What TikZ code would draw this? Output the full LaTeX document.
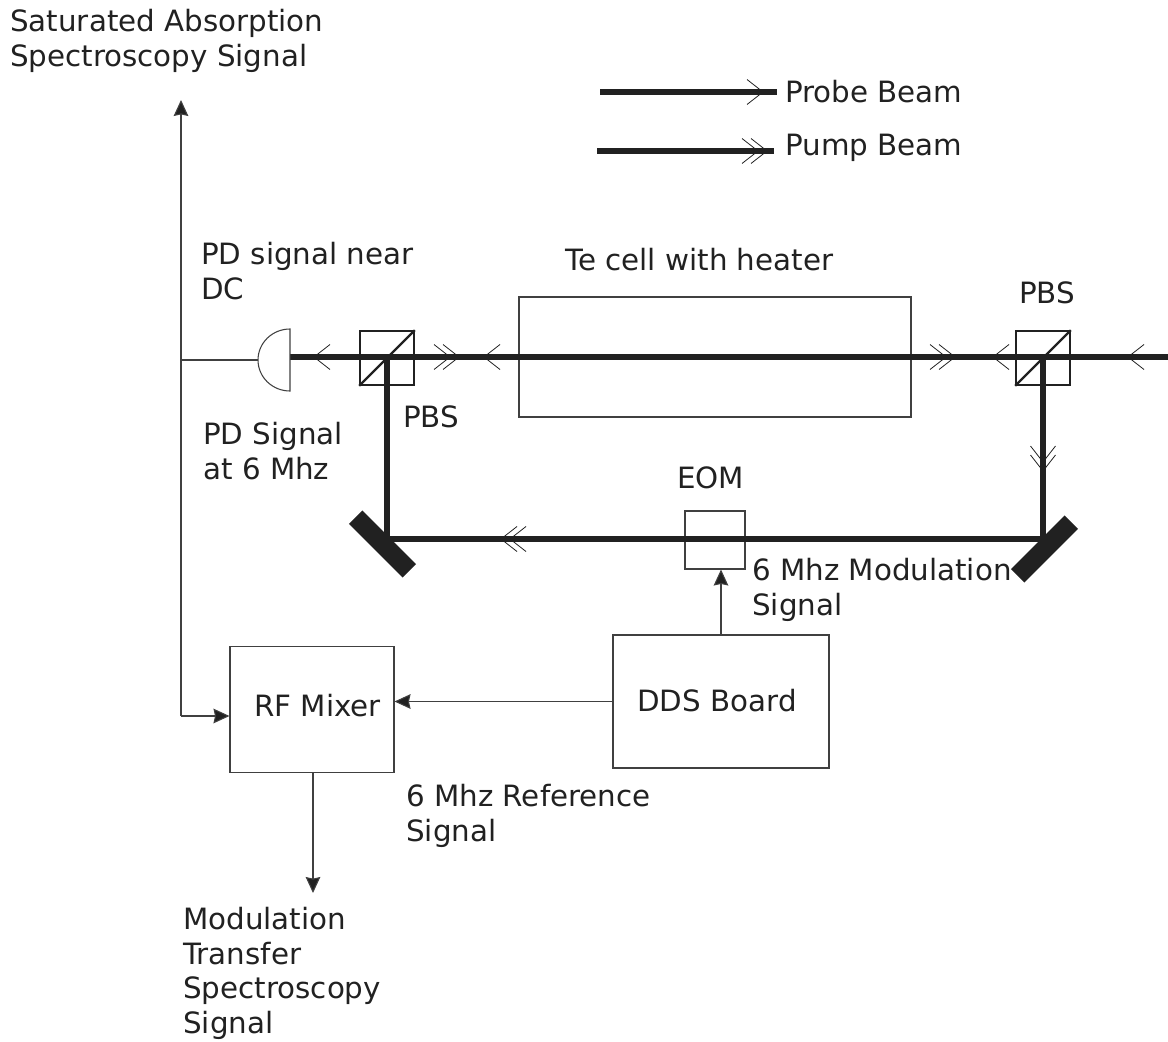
\documentclass[tikz,border=0pt]{standalone}
\usepackage{fontspec}
\setmainfont{DejaVu Sans}
\usetikzlibrary{arrows.meta}
\definecolor{ink}{gray}{0.13}
\definecolor{wire}{gray}{0.25}
\tikzset{
  beam/.style={line width=3.8pt,draw=ink},
  signal/.style={line width=.8pt,draw=wire},
  sigarrow/.style={signal,-{Stealth[length=12pt,width=11pt,inset=1.2pt,fill=ink]}},
  label/.style={anchor=north west,inner sep=0pt,align=left,text=ink,font=\fontsize{22}{26}\selectfont},
  probemark/.pic={\draw[line width=.6pt,draw=ink] (16,-12.5) -- (0,0) -- (16,12.5);},
  pumpmark/.pic={\draw[line width=.6pt,draw=ink] (16,-12.5) -- (0,0) -- (16,12.5) (25,-12.5) -- (9,0) -- (25,12.5);}
}
\begin{document}
\begin{tikzpicture}[x=.75pt,y=-.75pt]
  \useasboundingbox (0,0) rectangle (1168,1042);

  \coordinate (pdface) at (290,357);
  \coordinate (pdwire) at (258,360);
  \coordinate (laser) at (1168,357);
  \coordinate (corna) at (387,539);
  \coordinate (cornb) at (1043,539);
  \coordinate (node) at (181,360);
  \coordinate (sasout) at (181,100);
  \coordinate (mixerin) at (181,716);
  \coordinate (mtsout) at (313,893);
  \coordinate (probea) at (600,92);
  \coordinate (probeb) at (777,92);
  \coordinate (pumpa) at (597,151);
  \coordinate (pumpb) at (774,151);

  % boxes
  \begin{scope}[every node/.style={draw=wire,line width=.8pt,inner sep=0pt}]
    \node[minimum width=294pt,minimum height=90pt] (cell) at (715,357) {};
    \node[minimum width=45pt,minimum height=43.5pt] (eom) at (715,540) {};
    \node[minimum width=123pt,minimum height=95pt] (mixer) at (312,709.5) {};
    \node[minimum width=162pt,minimum height=99.75pt] (dds) at (721,701.5) {};
  \end{scope}

  % beam splitters
  \begin{scope}[every node/.style={draw=ink,line width=1.7pt,inner sep=0pt,minimum size=40pt}]
    \node (pbsa) at (387,358) {};
    \node (pbsb) at (1043,358) {};
  \end{scope}
  \draw[ink,line width=1.7pt] (pbsa.south west) -- (pbsa.north east);
  \draw[ink,line width=1.7pt] (pbsb.south west) -- (pbsb.north east);

  % beams
  \draw[beam] (pdface) -- (laser);
  \draw[beam] (pbsa.center) -- (corna) -- (cornb) -- (pbsb.center);
  \draw[beam] (probea) -- (probeb);
  \draw[beam] (pumpa) -- (pumpb);

  % mirrors
  \begin{scope}[every node/.style={fill=ink,inner sep=0pt,minimum width=57pt,minimum height=14.3pt}]
    \node[rotate=-45] (mirrora) at (382.5,544) {};
    \node[rotate=45] (mirrorb) at (1044.5,549) {};
  \end{scope}

  % photodiode
  \draw[signal] (290,329) arc[start angle=90,end angle=270,x radius=24pt,y radius=23.25pt] -- cycle;

  % signals
  \draw[signal] (pdwire) -- (node);
  \draw[sigarrow] (mixerin) -- (sasout);
  \draw[sigarrow] (mixerin) -- (mixerin -| mixer.west);
  \draw[sigarrow] (dds.north) -- (dds.north |- eom.south);
  \draw[sigarrow] (dds.west) -- (dds.west -| mixer.east);
  \draw[sigarrow] (mixer.south -| mtsout) -- (mtsout);

  % beam direction marks
  \pic at (314,357) {probemark};
  \pic at (484,357) {probemark};
  \pic at (993,357) {probemark};
  \pic at (1128,357) {probemark};
  \pic[rotate=180] at (459,357) {pumpmark};
  \pic[rotate=180] at (955,357) {pumpmark};
  \pic[rotate=90] at (1043,471) {pumpmark};
  \pic at (501,539) {pumpmark};
  \pic[rotate=180] at (763,92) {probemark};
  \pic[rotate=180] at (767,151) {pumpmark};

  % labels
  \node[label] (sastext) at (10,9) {Saturated Absorption\\Spectroscopy Signal};
  \node[label] (probetext) at (785,80) {Probe Beam};
  \node[label] (pumptext) at (785,134) {Pump Beam};
  \node[label] (celltext) at (565,248) {Te cell with heater};
  \node[label] (dctext) at (201,242) {PD signal near\\DC};
  \node[label] (pbsbtext) at (1019,281) {PBS};
  \node[label] (pbsatext) at (403,405) {PBS};
  \node[label] (pdtext) at (203,422) {PD Signal\\at 6 Mhz};
  \node[label] (eomtext) at (677,466) {EOM};
  \node[label] (modtext) at (752,558) {6 Mhz Modulation\\Signal};
  \node[label] (ddstext) at (637,689) {DDS Board};
  \node[label] (mixertext) at (254,694) {RF Mixer};
  \node[label] (reftext) at (406,784) {6 Mhz Reference\\Signal};
  \node[label] (mtstext) at (183,907) {Modulation\\Transfer\\Spectroscopy\\Signal};
\end{tikzpicture}
\end{document}
